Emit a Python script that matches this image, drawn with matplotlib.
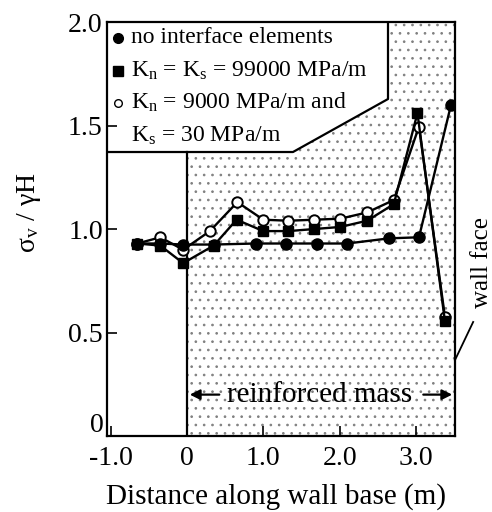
#!/usr/bin/python

"""
Vertical stress along the wall base for three interface assumptions.
"""

import matplotlib
matplotlib.use('Agg')
import matplotlib.pyplot as plt
from matplotlib.patches import Polygon

# constants
plt.rcParams['font.family'] = ['Liberation Serif', 'DejaVu Serif']
plt.rcParams['mathtext.fontset'] = 'custom'
plt.rcParams['mathtext.rm'] = 'Liberation Serif'
plt.rcParams['mathtext.it'] = 'Liberation Serif:italic'
plt.rcParams['hatch.linewidth'] = 0.7

# data: distance along wall base (m) and sigma_v / gamma H
X_NONE = [-0.65, -0.35, -0.05, 0.35, 0.9, 1.3, 1.7, 2.1, 2.65, 3.04, 3.46]
Y_NONE = [0.93, 0.93, 0.925, 0.925, 0.93, 0.93, 0.93, 0.93, 0.955, 0.96, 1.60]

X_STIFF = [-0.65, -0.35, -0.05, 0.35, 0.65, 1.0, 1.33, 1.67, 2.01, 2.36, 2.71, 3.02, 3.38]
Y_STIFF = [0.93, 0.92, 0.835, 0.92, 1.045, 0.99, 0.99, 1.0, 1.01, 1.04, 1.12, 1.56, 0.555]

X_SOFT = [-0.65, -0.35, -0.05, 0.30, 0.66, 1.0, 1.33, 1.67, 2.01, 2.36, 2.71, 3.04, 3.38]
Y_SOFT = [0.93, 0.96, 0.90, 0.99, 1.13, 1.045, 1.04, 1.045, 1.05, 1.08, 1.14, 1.495, 0.575]

XTICKS = [-1.0, 0.0, 1.0, 2.0, 3.0]
XTICKLABELS = ['-1.0', '0', '1.0', '2.0', '3.0']
YTICKS = [0.0, 0.5, 1.0, 1.5, 2.0]
YTICKLABELS = ['', '0.5', '1.0', '1.5', '2.0']   # '0' drawn a bit higher, see below

LEGEND_LABELS = ['no interface elements',
                 r'K$_\mathrm{n}$ = K$_\mathrm{s}$ = 99000 MPa/m',
                 r'K$_\mathrm{n}$ = 9000 MPa/m and',
                 r'K$_\mathrm{s}$ = 30 MPa/m']

# layout
XMIN, XMAX = -1.048, 3.512
BOX_X = [XMIN, 0.0, 1.389, 2.634, 2.634]
BOX_Y = [1.372, 1.372, 1.372, 1.628, 2.0]


def main():
    fig = plt.figure(figsize=(4.92, 5.12), dpi=100)
    ax = fig.add_axes([0.2175, 0.1484, 0.7073, 0.8086])

    # stippled reinforced mass
    stipple = Polygon([(0, 0), (XMAX, 0), (XMAX, 2.0), (BOX_X[3], 2.0),
                       (BOX_X[3], BOX_Y[3]), (BOX_X[2], BOX_Y[2]), (0, BOX_Y[1])],
                      closed=True, facecolor='white', edgecolor='0.5',
                      linewidth=0, hatch='..', zorder=0)
    ax.add_patch(stipple)
    ax.plot(BOX_X, BOX_Y, color='black', lw=1.6, zorder=1)
    ax.plot([0, 0], [0, BOX_Y[1]], color='black', lw=1.6, zorder=1)

    # series
    ax.plot(X_SOFT, Y_SOFT, '-o', color='black', lw=1.7, ms=7.5,
            mfc='white', mec='black', mew=1.4, zorder=3)
    ax.plot(X_STIFF, Y_STIFF, '-s', color='black', lw=1.7, ms=7.5, zorder=4)
    ax.plot(X_NONE, Y_NONE, '-o', color='black', lw=1.7, ms=8, zorder=5)

    # legend drawn by hand inside the cut box
    handles = [dict(marker='o', mfc='black', ms=7),
               dict(marker='s', mfc='black', ms=6.5),
               dict(marker='o', mfc='white', ms=5.5),
               None]
    rows = [1.925, 1.765, 1.61, 1.45]
    for h, label, yy in zip(handles, LEGEND_LABELS, rows):
        if h is not None:
            ax.plot([-0.9], [yy], linestyle='none', mec='black', zorder=6, **h)
        ax.text(-0.73, yy, label, fontsize=17, va='center', ha='left', zorder=6)

    # reinforced mass annotation
    ax.text(1.74, 0.2, 'reinforced mass', fontsize=21, ha='center', va='center', zorder=6)
    arrow = dict(arrowstyle='-|>', color='black', lw=1.6, mutation_scale=15)
    ax.annotate('', xy=(0.0, 0.2), xytext=(0.46, 0.2), arrowprops=arrow, zorder=6)
    ax.annotate('', xy=(XMAX, 0.2), xytext=(3.06, 0.2), arrowprops=arrow, zorder=6)

    # wall face label
    ax.plot([XMAX, 3.75], [0.367, 0.551], color='black', lw=1.3, clip_on=False)
    ax.text(3.86, 0.84, 'wall face', rotation=90, fontsize=18,
            ha='center', va='center', clip_on=False)

    # axes
    ax.set_xlim(XMIN, XMAX)
    ax.set_ylim(0, 2.0)
    ax.set_xticks(XTICKS)
    ax.set_xticklabels(XTICKLABELS)
    ax.set_yticks(YTICKS)
    ax.set_yticklabels(YTICKLABELS)
    ax.tick_params(direction='in', length=7, width=1.2, labelsize=20)
    ax.tick_params(axis='x', pad=7)
    ax.tick_params(axis='y', pad=3)
    ax.text(-0.01, 0.025, '0', transform=ax.transAxes, fontsize=20,
            ha='right', va='center')
    for s in ax.spines.values():
        s.set_linewidth(1.6)
    ax.set_xlabel('Distance along wall base (m)', fontsize=21)
    ax.xaxis.set_label_coords(0.487, -0.113)
    ax.set_ylabel(r'$\mathrm{\sigma_v}$ / $\mathrm{\gamma}$H', fontsize=20)
    ax.yaxis.set_label_coords(-0.185, 0.54)

    plt.savefig('out.png', dpi=100)


if __name__ == "__main__":
    main()
